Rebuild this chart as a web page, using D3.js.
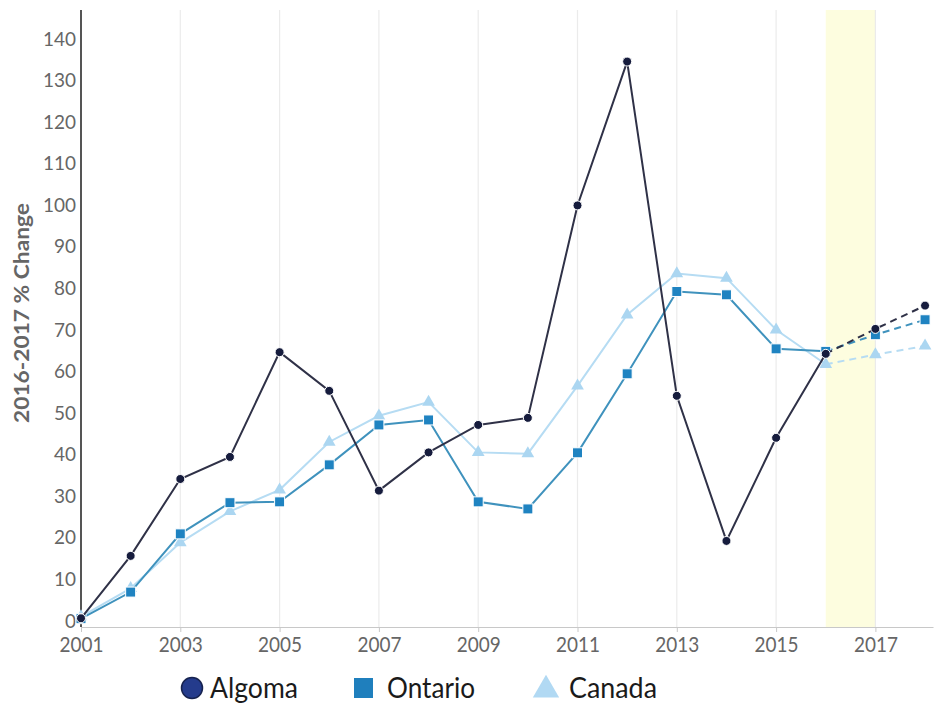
<!DOCTYPE html>
<html>
<head>
<meta charset="utf-8">
<script src="https://cdn.jsdelivr.net/npm/d3@7"></script>
<style>
  body { margin: 0; background: #fff; }
  svg { display: block; font-family: Lato, "Open Sans", sans-serif; }
</style>
</head>
<body>
<svg width="940" height="706"></svg>
<script>
let years = [2001, 2002, 2003, 2004, 2005, 2006, 2007, 2008, 2009, 2010, 2011, 2012, 2013, 2014, 2015, 2016, 2017, 2018];

let algoma = [0.4, 15.4, 33.9, 39.2, 64.4, 55.1, 31.1, 40.3, 46.9, 48.6, 99.7, 134.3, 53.9, 19, 43.8, 64, 70, 75.6];
let ontario = [0.3, 6.7, 20.7, 28.2, 28.4, 37.3, 46.9, 48.1, 28.4, 26.7, 40.2, 59.2, 79, 78.2, 65.2, 64.6, 68.6, 72.2];
let canada = [0.8, 7.6, 18.6, 26.1, 31.3, 42.8, 49.1, 52.4, 40.3, 40, 56.3, 73.4, 83.3, 82.2, 69.8, 61.5, 63.8, 65.9];

let xTicks = [2001, 2003, 2005, 2007, 2009, 2011, 2013, 2015, 2017];
let yTicks = [0, 10, 20, 30, 40, 50, 60, 70, 80, 90, 100, 110, 120, 130, 140];

// last measured year, the rest is drawn dashed
let lastActual = 2016;
let highlight = [2016, 2017];

let series = [
  { name: 'Canada', values: canada, line: '#b6dcf3', fill: '#abd6f1', shape: 'triangle' },
  { name: 'Ontario', values: ontario, line: '#3f92bd', fill: '#1f83c1', shape: 'square' },
  { name: 'Algoma', values: algoma, line: '#2f3147', fill: '#161c3d', shape: 'circle' },
];

let svg = d3.select('svg');

let plotLeft = 81;
let plotRight = 933;
let plotTop = 10;
let plotBottom = 627;

let x = d3.scaleLinear().domain([2001, 2018.16]).range([plotLeft, plotRight]);
let y = d3.scaleLinear().domain([-1.7, 146.7]).range([plotBottom, plotTop]);

// highlighted year band
svg.append('rect')
  .attr('x', x(highlight[0]))
  .attr('y', plotTop)
  .attr('width', x(highlight[1]) - x(highlight[0]))
  .attr('height', plotBottom - plotTop)
  .attr('fill', '#fdfddf');

// vertical grid
svg.append('g')
  .selectAll('line')
  .data(xTicks.slice(1))
  .enter()
  .append('line')
  .attr('x1', (d) => x(d))
  .attr('x2', (d) => x(d))
  .attr('y1', plotTop)
  .attr('y2', plotBottom)
  .attr('stroke', '#ebebeb')
  .attr('stroke-width', 1.2);

// tick font is narrow, squeeze Lato to match
let xAxis = d3.axisBottom(x).tickValues(xTicks).tickFormat(d3.format('d')).tickSize(5).tickSizeOuter(0);
let gx = svg.append('g').attr('transform', `translate(0,${plotBottom})`).call(xAxis);
gx.select('.domain').attr('stroke', '#c8c8c8').attr('stroke-width', 1.2);
gx.selectAll('.tick line').attr('stroke', '#c8c8c8');
gx.selectAll('.tick text')
  .attr('fill', '#666')
  .attr('font-size', 22)
  .attr('y', 25)
  .attr('dy', 0)
  .attr('textLength', 44)
  .attr('lengthAdjust', 'spacingAndGlyphs')
  .attr('font-family', 'Lato, sans-serif');

let yAxis = d3.axisLeft(y).tickValues(yTicks).tickSize(0).tickPadding(5);
let gy = svg.append('g').attr('transform', `translate(${plotLeft},0)`).call(yAxis);
gy.select('.domain').remove();
gy.selectAll('.tick text')
  .attr('fill', '#666')
  .attr('font-size', 20)
  .attr('dy', '0.36em')
  .attr('textLength', (d) => String(d).length * 11)
  .attr('lengthAdjust', 'spacingAndGlyphs')
  .attr('font-family', 'Lato, sans-serif');

svg.append('line')
  .attr('x1', plotLeft)
  .attr('x2', plotLeft)
  .attr('y1', plotTop)
  .attr('y2', plotBottom)
  .attr('stroke', '#555')
  .attr('stroke-width', 2);

svg.append('text')
  .attr('transform', 'translate(29,313) rotate(-90)')
  .attr('text-anchor', 'middle')
  .attr('fill', '#666')
  .attr('font-size', 20)
  .attr('font-weight', 'bold')
  .attr('textLength', 220)
  .attr('lengthAdjust', 'spacingAndGlyphs')
  .text('2016-2017 % Change');

let line = d3.line()
  .x((d) => x(d.year))
  .y((d) => y(d.value));

let tri = d3.symbol().type(d3.symbolTriangle).size(70);

series.forEach((s) => {
  let pts = years.map((yr, i) => ({ year: yr, value: s.values[i] }));
  let solid = pts.filter((d) => d.year <= lastActual);
  let dashed = pts.filter((d) => d.year >= lastActual);
  let g = svg.append('g');

  g.append('path')
    .attr('d', line(solid))
    .attr('fill', 'none')
    .attr('stroke', s.line)
    .attr('stroke-width', 2);

  g.append('path')
    .attr('d', line(dashed))
    .attr('fill', 'none')
    .attr('stroke', s.line)
    .attr('stroke-width', 2)
    .attr('stroke-dasharray', '7,5');

  let marks = g.selectAll('.mark').data(pts).enter();
  if (s.shape === 'circle') {
    marks.append('circle')
      .attr('cx', (d) => x(d.year))
      .attr('cy', (d) => y(d.value))
      .attr('r', 4.5)
      .attr('fill', s.fill)
      .attr('stroke', '#fff')
      .attr('stroke-width', 1);
  } else if (s.shape === 'square') {
    marks.append('rect')
      .attr('x', (d) => x(d.year) - 5)
      .attr('y', (d) => y(d.value) - 5)
      .attr('width', 10)
      .attr('height', 10)
      .attr('fill', s.fill)
      .attr('stroke', '#fff')
      .attr('stroke-width', 1);
  } else {
    marks.append('path')
      .attr('d', tri)
      .attr('transform', (d) => `translate(${x(d.year)},${y(d.value)})`)
      .attr('fill', s.fill);
  }
});

// legend
let legend = svg.append('g').attr('transform', 'translate(0,688)');
legend.append('circle').attr('cx', 192).attr('cy', 0).attr('r', 10.5)
  .attr('fill', '#243b8c').attr('stroke', '#16224f').attr('stroke-width', 1.5);
legend.append('rect').attr('x', 354).attr('y', -10).attr('width', 19).attr('height', 20)
  .attr('fill', '#1f7fbd');
legend.append('path').attr('d', d3.symbol().type(d3.symbolTriangle).size(300))
  .attr('transform', 'translate(546,2)').attr('fill', '#b1d9f3');

let legendNames = [
  { name: 'Algoma', x: 210, w: 88 },
  { name: 'Ontario', x: 387, w: 88 },
  { name: 'Canada', x: 569, w: 88 },
];
legend.selectAll('.lt')
  .data(legendNames)
  .enter()
  .append('text')
  .attr('x', (d) => d.x)
  .attr('y', 10)
  .attr('fill', '#1a1a1a')
  .attr('font-size', 28)
  .attr('textLength', (d) => d.w)
  .attr('lengthAdjust', 'spacingAndGlyphs')
  .attr('font-family', 'Lato, sans-serif')
  .text((d) => d.name);
</script>
</body>
</html>
